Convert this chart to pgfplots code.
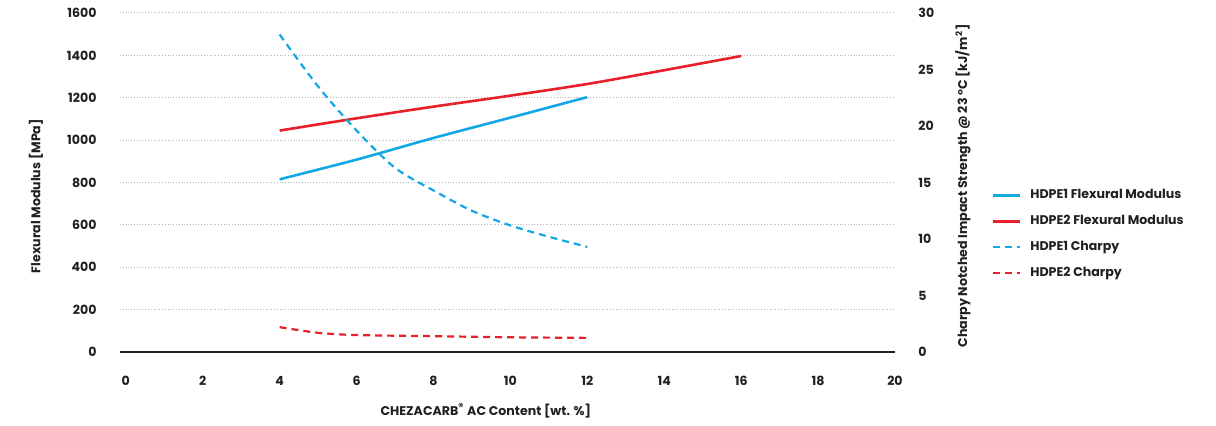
\documentclass[border=0pt]{standalone}
\usepackage{pgfplots}
\pgfplotsset{compat=1.18}
\usepackage{fontspec}
\setmainfont{Poppins}
\definecolor{cblue}{HTML}{12A8E4}
\definecolor{cred}{HTML}{E8202A}
\definecolor{txt}{HTML}{231F20}
\newcommand\fs{\fontsize{6.3pt}{7.5pt}\selectfont\bfseries}
\pgfplotsset{
  base/.style={
    scale only axis, width=387.5pt, height=169.5pt,
    at={(0,0)}, anchor=south west,
    xmin=-0.15, xmax=20,
    axis line style={draw=none},
    major tick length=0pt,
    tick style={draw=none},
    /pgf/number format/assume math mode=true,
    /pgf/number format/1000 sep={},
    tick label style={font=\fs, text=txt},
    label style={font=\fs, text=txt},
  }
}
\begin{document}
\begin{tikzpicture}
\path (-60pt,-35pt) rectangle (548pt,176pt);
\begin{axis}[base,
  ymin=0, ymax=1600,
  ytick={0,200,...,1600},
  xtick={0,2,...,20},
  ymajorgrids,
  grid style={densely dotted, black!30, line width=0.5pt},
  yticklabel style={anchor=east, inner sep=0pt, xshift=-11.5pt},
  xticklabel style={anchor=base, inner sep=0pt, yshift=-16.5pt},
  ylabel={Flexural Modulus [MPa]},
  ylabel style={at={(axis description cs:-0.1084,0.46)}, anchor=center},
  xlabel={CHEZACARB\textsuperscript{\tiny\textregistered} AC Content [wt. \%]},
  xlabel style={at={(axis description cs:0.472,0)}, anchor=center, yshift=-29.5pt},
]
\draw[txt, line width=1.3pt] (axis cs:-0.15,0) -- (axis cs:20,0);
\addplot[cblue, line width=1.3pt, smooth] coordinates {(4,815) (6,908) (8,1010) (10,1106) (12,1203)};
\addplot[cred, line width=1.3pt, smooth] coordinates {(4,1045) (6,1103) (8,1158) (10,1210) (12,1265) (14,1330) (16,1397)};
\end{axis}
\begin{axis}[base,
  ymin=0, ymax=30,
  ytick={0,5,...,30},
  xtick=\empty,
  axis y line*=right,
  yticklabel style={anchor=west, inner sep=0pt, xshift=11.5pt},
  ylabel={Charpy Notched Impact Strength @ 23 °C [kJ/m\textsuperscript{2}]},
  ylabel style={at={(axis description cs:1.0877,0.49)}, anchor=center},
  legend cell align=left,
  legend style={draw=none, fill=none, font=\fs, text=txt,
    at={(axis description cs:1.1166,0.4985)}, anchor=north west,
    row sep=4.7pt, nodes={inner sep=1pt},
    /tikz/every odd column/.append style={column sep=3.5pt}},
  legend image code/.code={\draw[#1] (0pt,0pt) -- (13.5pt,0pt);},
]
\addlegendimage{cblue, line width=1.3pt}
\addlegendentry{HDPE1 Flexural Modulus}
\addlegendimage{cred, line width=1.3pt}
\addlegendentry{HDPE2 Flexural Modulus}
\addplot[cblue, line width=1.1pt, dash pattern=on 3.5pt off 2.5pt, smooth] coordinates {(4,28.1) (5,23.5) (6,19.6) (7,16.3) (8,14.3) (9,12.5) (10,11.2) (11,10.2) (12,9.3)};
\addlegendentry{HDPE1 Charpy}
\addplot[cred, line width=1.1pt, dash pattern=on 3.5pt off 2.5pt, smooth] coordinates {(4,2.2) (5,1.7) (6,1.5) (8,1.4) (10,1.3) (12,1.25)};
\addlegendentry{HDPE2 Charpy}
\end{axis}
\end{tikzpicture}
\end{document}
